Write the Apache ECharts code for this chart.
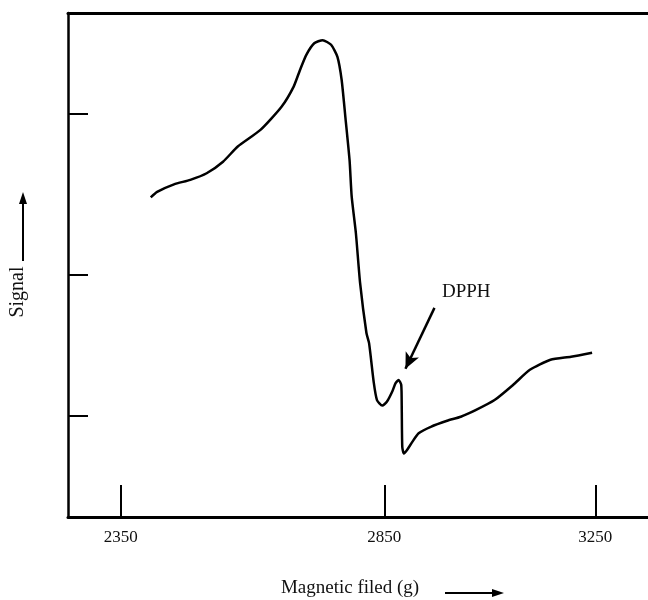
<!DOCTYPE html>
<html>
<head>
<meta charset="utf-8">
<script src="https://cdn.jsdelivr.net/npm/echarts@6/dist/echarts.min.js"></script>
<style>
  html, body { margin: 0; padding: 0; background: #fff; }
  #chart { width: 648px; height: 600px; }
</style>
</head>
<body>
<div id="chart"></div>
<script>
// EPR spectrum, field in gauss, signal in arbitrary units
var fieldG = [2407, 2419, 2451, 2482, 2513, 2544, 2572, 2615, 2655, 2678, 2690, 2702,
  2717, 2733, 2749, 2761, 2769, 2776, 2784, 2788, 2796, 2804, 2816, 2821, 2830, 2836,
  2846, 2855, 2865, 2871, 2877, 2882, 2883, 2884, 2887, 2893, 2903, 2915, 2938, 2969,
  2995, 3023, 3059, 3094, 3126, 3165, 3204, 3244];
var signal = [63.4, 64.5, 66.0, 66.9, 68.2, 70.5, 73.5, 76.8, 81.4, 85.4, 88.7, 91.7,
  94.0, 94.6, 93.7, 91.3, 86.7, 79.4, 70.8, 63.6, 56.3, 46.4, 36.5, 34.5, 26.6, 23.2,
  22.1, 22.9, 24.9, 26.5, 27.2, 26.2, 21.2, 13.9, 12.6, 13.3, 14.9, 16.6, 17.9, 19.1,
  19.9, 21.2, 23.2, 26.2, 29.2, 31.2, 31.8, 32.6];
var xTicks = [2350, 2850, 3250];
var yTicks = [20, 48, 80];
// DPPH marker arrow: [from, to] in data units
var dpphArrow = [[2945, 41.5], [2890, 29.4]];

var serif = '"Liberation Serif", "DejaVu Serif", serif';
var chart = echarts.init(document.getElementById("chart"));

chart.setOption({
  animation: false,
  grid: { left: 68, right: 0, top: 13, bottom: 83 },
  xAxis: [
    {
      type: "value",
      min: 2250,
      max: 3350,
      axisLine: { show: true, lineStyle: { color: "#000", width: 3 } },
      axisTick: {
        show: true,
        inside: true,
        length: 32,
        customValues: xTicks,
        lineStyle: { color: "#000", width: 2 }
      },
      axisLabel: {
        customValues: xTicks,
        margin: 12,
        color: "#111",
        fontFamily: serif,
        fontSize: 17,
        formatter: function (v) { return String(v); }
      },
      splitLine: { show: false }
    },
    {
      type: "value",
      position: "top",
      min: 2250,
      max: 3350,
      axisLine: { show: true, lineStyle: { color: "#000", width: 3 } },
      axisTick: { show: false },
      axisLabel: { show: false },
      splitLine: { show: false }
    }
  ],
  yAxis: {
    type: "value",
    min: 0,
    max: 100,
    axisLine: { show: true, lineStyle: { color: "#000", width: 2.5 } },
    axisTick: {
      show: true,
      inside: true,
      length: 20,
      customValues: yTicks,
      lineStyle: { color: "#000", width: 2 }
    },
    axisLabel: { show: false },
    splitLine: { show: false }
  },
  series: [
    {
      type: "line",
      data: fieldG.map(function (g, i) { return [g, signal[i]]; }),
      showSymbol: false,
      smooth: 0.2,
      lineStyle: { color: "#000", width: 2.5 },
      markLine: {
        silent: true,
        symbol: ["none", "arrow"],
        symbolSize: [11, 16],
        label: { show: false },
        lineStyle: { color: "#000", width: 2.5, type: "solid" },
        data: [[{ coord: dpphArrow[0] }, { coord: dpphArrow[1] }]]
      }
    }
  ],
  graphic: [
    {
      type: "text",
      x: 442,
      y: 283,
      style: { text: "DPPH", font: "19px " + serif, fill: "#111" }
    },
    {
      type: "text",
      x: 350,
      y: 588,
      style: {
        text: "Magnetic filed (g)",
        font: "19px " + serif,
        fill: "#111",
        align: "center",
        verticalAlign: "middle"
      }
    },
    {
      type: "line",
      shape: { x1: 445, y1: 593, x2: 496, y2: 593 },
      style: { stroke: "#000", lineWidth: 2 }
    },
    {
      type: "polygon",
      shape: { points: [[504, 593], [492, 589], [492, 597]] },
      style: { fill: "#000" }
    },
    {
      type: "text",
      x: 18,
      y: 292,
      rotation: Math.PI / 2,
      style: {
        text: "Signal",
        font: "20px " + serif,
        fill: "#111",
        align: "center",
        verticalAlign: "middle"
      }
    },
    {
      type: "line",
      shape: { x1: 23, y1: 261, x2: 23, y2: 200 },
      style: { stroke: "#000", lineWidth: 2 }
    },
    {
      type: "polygon",
      shape: { points: [[23, 192], [19, 204], [27, 204]] },
      style: { fill: "#000" }
    }
  ]
});
</script>
</body>
</html>
